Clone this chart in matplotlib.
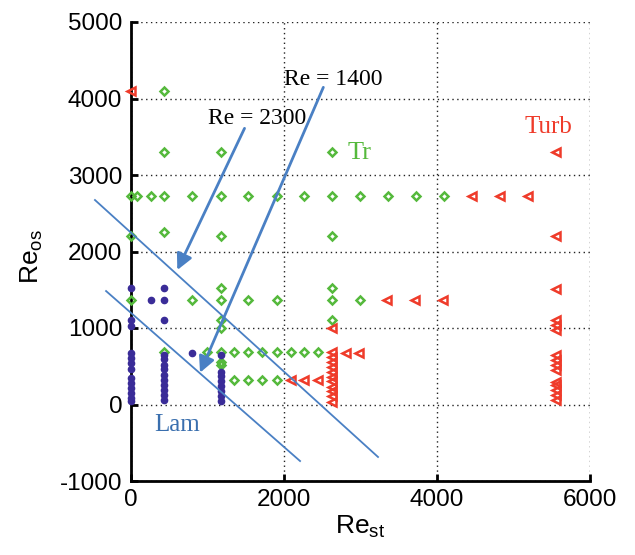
import matplotlib

matplotlib.use("Agg")
import matplotlib.pyplot as plt  # noqa: E402

plt.rcParams["axes.unicode_minus"] = False

# Paleta
_VERDE = "#55b93c"
_ROJO = "#ef3b2a"
_MORADO = "#3a2c98"
_AZUL = "#4a80c4"

# Laminar (puntos morados)
lam_x = [0] * 13 + [264] + [441] * 13 + [807] + [1178] * 8
lam_y = [1520, 1100, 1020, 670, 610, 540, 470, 340, 280, 210, 150, 90, 40,
         1360,
         1520, 1360, 1100, 650, 590, 520, 460, 390, 320, 260, 190, 130, 60,
         670,
         650, 430, 370, 310, 240, 180, 110, 40]

# Transicional (rombos verdes)
tr_x = ([441]
        + [441, 1178, 2632]
        + [0, 80, 265, 441, 807, 1178, 1540, 1910, 2270, 2632, 3000, 3360, 3730, 4090]
        + [0, 441, 1178, 2632]
        + [1178, 2632]
        + [0, 807, 1178, 1540, 1910, 2632, 3000]
        + [1178, 1178, 2632]
        + [441, 995, 1178, 1356, 1538, 1721, 1909, 2092, 2270, 2453]
        + [1178, 1178]
        + [1356, 1538, 1721, 1909])
tr_y = ([4100]
        + [3300] * 3
        + [2725] * 14
        + [2200, 2260, 2200, 2200]
        + [1520] * 2
        + [1360] * 7
        + [1100, 1000, 1100]
        + [680] * 10
        + [560, 520]
        + [320] * 4)

# Turbulento (triángulos rojos)
turb_x = ([0]
          + [4456, 4820, 5190]
          + [3354, 3720, 4086]
          + [2811, 2988]
          + [2092, 2270, 2453]
          + [2632] * 12
          + [5550] * 15)
turb_y = ([4100]
          + [2725] * 3
          + [1360] * 3
          + [670] * 2
          + [320] * 3
          + [1000, 690, 627, 562, 496, 431, 366, 301, 235, 170, 105, 39]
          + [3300, 2200, 1510, 1100, 1040, 980, 650, 580, 520, 450, 300, 250, 190, 120, 60])

# Límites dibujados a mano (líneas de Re = cte) y flechas
linea_sup = ([-464, 3232], [2673, -686])
linea_inf = ([-319, 2214], [1483, -739])
flecha_2300 = ((1489, 3610), (611, 1758))
flecha_1400 = ((2518, 4146), (908, 416))

fig = plt.figure(figsize=(6.35, 5.55), dpi=100)
ax = fig.add_axes([130.5 / 635, 1 - 481 / 555, 459.5 / 635, 459 / 555])

ax.plot(tr_x, tr_y, linestyle="none", marker="D", ms=4.2, mfc="none",
        mec=_VERDE, mew=1.8, clip_on=False, zorder=3)
ax.plot(turb_x, turb_y, linestyle="none", marker="<", ms=5.5, mfc="none",
        mec=_ROJO, mew=1.8, clip_on=False, zorder=3)
ax.plot(lam_x, lam_y, linestyle="none", marker="o", ms=4.5, mfc=_MORADO,
        mec=_MORADO, clip_on=False, zorder=4)

ax.set_xlim(0, 6000)
ax.set_ylim(-1000, 5000)
ax.set_xticks([0, 2000, 4000, 6000])
ax.set_yticks([-1000, 0, 1000, 2000, 3000, 4000, 5000])
ax.grid(True, color="#222222", linestyle=(0, (1, 2.5)), linewidth=1.0)
ax.set_axisbelow(True)
for s in ("top", "right"):
    ax.spines[s].set_visible(False)
for s in ("left", "bottom"):
    ax.spines[s].set_linewidth(2.0)
ax.tick_params(direction="in", length=5, width=2, labelsize=17.5, pad=6)
for lbl in ax.get_xticklabels() + ax.get_yticklabels():
    lbl.set_fontfamily("Liberation Sans")

ax.set_xlabel(r"Re$_\mathregular{st}$", fontsize=19, family="Liberation Sans")
ax.set_ylabel(r"Re$_\mathregular{os}$", fontsize=19, family="Liberation Sans")
ax.xaxis.set_label_coords(0.5, -0.07)
ax.yaxis.set_label_coords(-0.185, 0.49)

for xs, ys in (linea_sup, linea_inf):
    ax.plot(xs, ys, color=_AZUL, lw=1.3, clip_on=False, zorder=5)
for ini, fin in (flecha_2300, flecha_1400):
    ax.annotate("", xy=fin, xytext=ini, annotation_clip=False, zorder=6,
                arrowprops=dict(arrowstyle="-|>", color=_AZUL, lw=2,
                                mutation_scale=24, shrinkA=0, shrinkB=0))

serif = "Liberation Serif"
ax.text(1652, 3745, "Re = 2300", fontsize=17, family=serif, ha="center", va="center")
ax.text(2645, 4254, "Re = 1400", fontsize=17, family=serif, ha="center", va="center")
ax.text(2997, 3287, "Tr", fontsize=19, family=serif, color=_VERDE, ha="center", va="center")
ax.text(5452, 3627, "Turb", fontsize=18, family=serif, color=_ROJO, ha="center", va="center")
ax.text(607, -268, "Lam", fontsize=18, family=serif, color="#3a6fae", ha="center", va="center")

fig.savefig("out.png", dpi=100)
